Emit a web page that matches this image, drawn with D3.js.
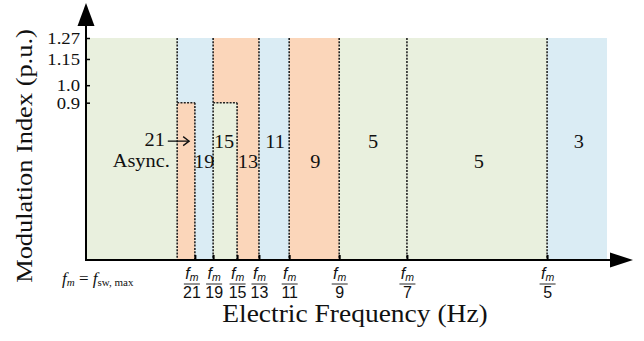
<!DOCTYPE html>
<html>
<head>
<meta charset="utf-8">
<script src="https://cdn.jsdelivr.net/npm/d3@7"></script>
<style>
  html, body { margin: 0; padding: 0; background: #fff; }
  svg { display: block; font-family: "Liberation Serif", "Times New Roman", serif; }
</style>
</head>
<body>
<svg id="chart" width="644" height="341"></svg>
<script>
// Frequency axis positions (normalised, schematic) of every zone boundary
const edges = [0, 0.175, 0.209, 0.244, 0.290, 0.332, 0.390, 0.486, 0.616, 0.885, 1.0];
// Pulse-number divisors labelled under the frequency axis, and where they sit
const tickDivisors = [21, 19, 15, 13, 11, 9, 7, 5];
const tickPositions = [0.209, 0.244, 0.290, 0.332, 0.390, 0.486, 0.616, 0.885];
// Modulation index ticks
const yTicks = [0.9, 1.0, 1.15, 1.27];
const yTickLabels = ["0.9", "1.0", "1.15", "1.27"];
const mMax = 1.27;
const mLimit = 0.9;

// Shaded zones: [x0, x1] along frequency, [m0, m1] in modulation index
const zoneX0 = [0.000, 0.175, 0.175, 0.244, 0.244, 0.332, 0.390, 0.486, 0.885];
const zoneX1 = [0.175, 0.244, 0.209, 0.332, 0.290, 0.390, 0.486, 0.885, 1.000];
const zoneM0 = [0, 0, 0, 0, 0, 0, 0, 0, 0];
const zoneM1 = [mMax, mMax, mLimit, mMax, mLimit, mMax, mMax, mMax, mMax];
const zoneKind = ["green", "blue", "orange", "orange", "green", "blue", "orange", "green", "blue"];

// Dotted boundaries: x position and top modulation index
const dashX = [0.175, 0.209, 0.244, 0.290, 0.332, 0.390, 0.486, 0.616, 0.885];
const dashTop = [mMax, mLimit, mMax, mLimit, mMax, mMax, mMax, mMax, mMax];
// Dotted caps at m = 0.9
const capX0 = [0.175, 0.244];
const capX1 = [0.209, 0.290];

// Zone annotations
const zoneLabels = ["21", "Async.", "15", "19", "13", "11", "9", "5", "5", "3"];
const labelX = [0.132, 0.106, 0.265, 0.227, 0.311, 0.363, 0.440, 0.551, 0.754, 0.946];
const labelM = [0.65, 0.53, 0.64, 0.526, 0.526, 0.64, 0.526, 0.64, 0.526, 0.64];
// Arrow from "21" to its narrow zone
const arrowFrom = [0.157, 0.68];
const arrowTo = [0.198, 0.68];

const colors = { green: "#e9f0de", blue: "#daecf4", orange: "#fbd6ba" };

const margin = { left: 86, top: 38 };
const plotW = 521, plotH = 222;
const stretch = 1.1; // lettering is set slightly wide

const svg = d3.select("#chart");
const g = svg.append("g").attr("transform", `translate(${margin.left},${margin.top})`);

const x = d3.scaleLinear().domain([0, 1]).range([0, plotW]);
const y = d3.scaleLinear().domain([0, mMax]).range([plotH, 0]);

// Zones
g.append("g").selectAll("rect")
  .data(zoneKind.map((k, i) => ({ k, x0: zoneX0[i], x1: zoneX1[i], m0: zoneM0[i], m1: zoneM1[i] })))
  .join("rect")
  .attr("x", d => x(d.x0))
  .attr("y", d => y(d.m1))
  .attr("width", d => x(d.x1) - x(d.x0))
  .attr("height", d => y(d.m0) - y(d.m1))
  .attr("fill", d => colors[d.k]);

// Dotted boundaries
const dash = g.append("g")
  .attr("stroke", "#222")
  .attr("stroke-width", 1.6)
  .attr("stroke-dasharray", "2,1.3")
  .attr("fill", "none");
dash.selectAll("line.v")
  .data(dashX.map((v, i) => ({ v, top: dashTop[i] })))
  .join("line").attr("class", "v")
  .attr("x1", d => x(d.v)).attr("x2", d => x(d.v))
  .attr("y1", d => y(d.top)).attr("y2", y(0));
dash.selectAll("line.h")
  .data(capX0.map((v, i) => ({ a: v, b: capX1[i] })))
  .join("line").attr("class", "h")
  .attr("x1", d => x(d.a)).attr("x2", d => x(d.b))
  .attr("y1", y(mLimit)).attr("y2", y(mLimit));

// Y axis
const yAxis = d3.axisLeft(y)
  .tickValues(yTicks)
  .tickFormat((d, i) => yTickLabels[i])
  .tickSizeInner(-4)
  .tickSizeOuter(0)
  .tickPadding(6);
const yg = g.append("g").call(yAxis);
yg.select(".domain").remove();
yg.selectAll(".tick line").attr("stroke", "#000").attr("stroke-width", 1.5);
yg.selectAll(".tick text")
  .attr("font-family", "Liberation Serif, serif")
  .attr("font-size", 17)
  .attr("dy", "0.34em")
  .attr("fill", "#111")
  .attr("transform", `translate(-6,0) scale(${stretch},1) translate(6,0)`);

// X axis with fraction labels
const xAxis = d3.axisBottom(x)
  .tickValues(tickPositions)
  .tickFormat("")
  .tickSizeInner(-5)
  .tickSizeOuter(0);
const xg = g.append("g").attr("transform", `translate(0,${plotH})`).call(xAxis);
xg.select(".domain").remove();
xg.selectAll(".tick line").attr("stroke", "#000").attr("stroke-width", 2);
xg.selectAll(".tick text").remove();
xg.selectAll(".tick").each(function (d, i) {
  // the two most crowded fractions are eased apart a little
  const nudge = i === 0 ? -3.5 : (i === 1 ? 0.5 : 0);
  const t = d3.select(this).append("g").attr("transform", `translate(${nudge},0)`);
  const num = t.append("text")
    .attr("y", 19)
    .attr("text-anchor", "middle")
    .attr("fill", "#111");
  num.append("tspan").attr("font-style", "italic").attr("font-size", 16).text("f");
  num.append("tspan").attr("font-style", "italic").attr("font-size", 10.5).attr("dy", 2).text("m");
  t.append("line")
    .attr("x1", -8).attr("x2", 8)
    .attr("y1", 24).attr("y2", 24)
    .attr("stroke", "#111").attr("stroke-width", 0.9);
  t.append("text")
    .attr("y", 37.5)
    .attr("text-anchor", "middle")
    .attr("font-size", 16)
    .attr("fill", "#111")
    .text(tickDivisors[i]);
});

// Axis lines with arrowheads
g.append("line")
  .attr("x1", x(0)).attr("x2", x(0))
  .attr("y1", y(0) + 1).attr("y2", -14)
  .attr("stroke", "#000").attr("stroke-width", 2);
g.append("path")
  .attr("d", `M${x(0)},-35 L${x(0) - 8.5},-12 L${x(0) + 8.5},-12 Z`)
  .attr("fill", "#000");
g.append("line")
  .attr("x1", x(0) - 1).attr("x2", plotW + 6)
  .attr("y1", y(0)).attr("y2", y(0))
  .attr("stroke", "#000").attr("stroke-width", 2);
g.append("path")
  .attr("d", `M${plotW + 26},${y(0)} L${plotW + 3},${y(0) - 7.5} L${plotW + 3},${y(0) + 7.5} Z`)
  .attr("fill", "#000");

// Zone annotations
g.append("g").selectAll("text")
  .data(zoneLabels.map((s, i) => ({ s, xv: labelX[i], m: labelM[i] })))
  .join("text")
  .attr("transform", d => `translate(${x(d.xv)},${y(d.m)}) scale(${stretch},1)`)
  .attr("text-anchor", "middle")
  .attr("font-size", 18.5)
  .attr("fill", "#111")
  .text(d => d.s);

// Arrow pointing into the 21-pulse zone
const ax0 = x(arrowFrom[0]), ay = y(arrowFrom[1]), ax1 = x(arrowTo[0]);
g.append("line")
  .attr("x1", ax0).attr("x2", ax1)
  .attr("y1", ay).attr("y2", ay)
  .attr("stroke", "#111").attr("stroke-width", 1.3);
g.append("path")
  .attr("d", `M${ax1 - 6},${ay - 4.5} L${ax1},${ay} L${ax1 - 6},${ay + 4.5}`)
  .attr("fill", "none").attr("stroke", "#111").attr("stroke-width", 1.3);

// Axis titles
svg.append("text")
  .attr("transform", `translate(32,156) rotate(-90) scale(${stretch},1)`)
  .attr("text-anchor", "middle")
  .attr("font-size", 24)
  .attr("fill", "#111")
  .text("Modulation Index (p.u.)");
svg.append("text")
  .attr("transform", `translate(355,322) scale(${stretch},1)`)
  .attr("text-anchor", "middle")
  .attr("font-size", 25)
  .attr("fill", "#111")
  .text("Electric Frequency (Hz)");

// Definition of f_m
const def = svg.append("text")
  .attr("x", 62).attr("y", 284)
  .attr("font-size", 17)
  .attr("fill", "#111");
def.append("tspan").attr("font-style", "italic").text("f");
def.append("tspan").attr("font-style", "italic").attr("font-size", 11).attr("dy", 2).text("m");
def.append("tspan").attr("dy", -2).text(" = ");
def.append("tspan").attr("font-style", "italic").text("f");
def.append("tspan").attr("font-size", 11).attr("dy", 2).text("sw, max");
</script>
</body>
</html>
